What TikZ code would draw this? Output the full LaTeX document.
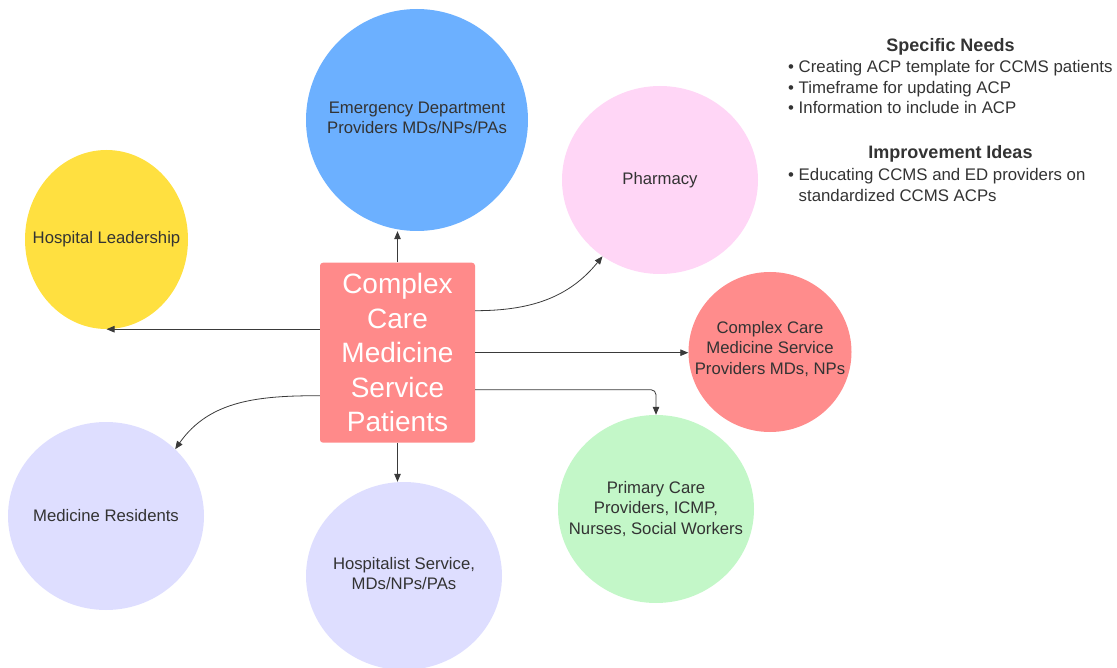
\documentclass[tikz,border=0pt]{standalone}
\usepackage{fontspec}
\setmainfont{Liberation Sans}
\usetikzlibrary{arrows.meta,shapes.geometric}
\definecolor{edblue}{HTML}{6CB0FF}
\definecolor{hlyellow}{HTML}{FFE040}
\definecolor{phpink}{HTML}{FFD6F6}
\definecolor{ccred}{HTML}{FF8C8C}
\definecolor{boxred}{HTML}{FF8A8A}
\definecolor{lav}{HTML}{DEDEFF}
\definecolor{pcgreen}{HTML}{C3F7C8}
\definecolor{txt}{HTML}{333333}
\definecolor{lin}{HTML}{3A3A3A}
\begin{document}
\begin{tikzpicture}[x=1pt,y=-1pt,
  blob/.style={ellipse, draw=none, inner sep=0pt},
  lbl/.style={align=center, text=txt, inner sep=0pt, font=\fontsize{16.7}{20.5}\selectfont},
  hd/.style={text=txt, inner sep=0pt, font=\fontsize{18}{21}\selectfont\bfseries},
  item/.style={text=txt, inner sep=0pt, font=\fontsize{16.8}{20.5}\selectfont},
  centerbox/.style={rectangle, rounded corners=3pt, fill=boxred, minimum width=155pt,
    minimum height=180pt, inner sep=0pt, align=center, text=white,
    font=\fontsize{28}{34.5}\selectfont},
  conn/.style={draw=lin, line width=0.8pt, -{Triangle[length=8pt,width=6.5pt]}}
]
\useasboundingbox (0,0) rectangle (1117,668);

% shapes
\node[blob, fill=edblue, minimum width=222pt, minimum height=222pt] (ed) at (417,120) {};
\node[lbl, yshift=2pt] (edt) at (ed.center) {Emergency Department\\Providers MDs/NPs/PAs};

\node[blob, fill=hlyellow, minimum width=163pt, minimum height=179pt] (hl) at (106.5,239.5) {};
\node[lbl] (hlt) at (hl.center) {Hospital Leadership};

\node[blob, fill=phpink, minimum width=196pt, minimum height=188pt] (ph) at (660,180) {};
\node[lbl] (pht) at (ph.center) {Pharmacy};

\node[blob, fill=ccred, minimum width=163pt, minimum height=160pt] (cc) at (770,352) {};
\node[lbl, yshift=3pt] (cct) at (cc.center) {Complex Care\\Medicine Service\\Providers MDs, NPs};

\node[blob, fill=lav, minimum width=196pt, minimum height=188pt] (mr) at (106,516) {};
\node[lbl] (mrt) at (mr.center) {Medicine Residents};

\node[blob, fill=lav, minimum width=196pt, minimum height=188pt] (hs) at (404,576) {};
\node[lbl, yshift=2.5pt] (hst) at (hs.center) {Hospitalist Service,\\MDs/NPs/PAs};

\node[blob, fill=pcgreen, minimum width=196pt, minimum height=188pt] (pc) at (656,509) {};
\node[lbl] (pct) at (pc.center) {Primary Care\\Providers, ICMP,\\Nurses, Social Workers};

\node[centerbox] (box) at (397.5,352.7) {Complex\\Care\\Medicine\\Service\\Patients};

% connectors
\draw[conn] (box.north) -- (box.north |- ed.south);
\draw[conn] (box.south) -- (box.south |- hs.north);
\draw[conn] (box.west |- hl.south) -- (hl.south);
\draw[conn] ([yshift=-43pt]box.west) to[out=180,in=55] (mr.44);
\draw[conn] ([yshift=42pt]box.east) to[out=0,in=231] (ph.233);
\draw[conn] (box.east) -- (box.east -| cc.west);
\draw[conn, rounded corners=5pt] ([yshift=-37pt]box.east) -| (pc.north);

% notes
\node[hd, anchor=base] (sn) at (950.5,52) {Specific Needs};
\node[item, anchor=base west] (n1) at (788,72.5) {• Creating ACP template for CCMS patients};
\node[item, anchor=base west] (n2) at (788,93.3) {• Timeframe for updating ACP};
\node[item, anchor=base west] (n3) at (788,114) {• Information to include in ACP};
\node[hd, anchor=base] (ii) at (950.5,158.3) {Improvement Ideas};
\node[item, anchor=base west] (i1) at (788,180.7) {• Educating CCMS and ED providers on};
\node[item, anchor=base west] (i2) at (798.5,201.7) {standardized CCMS ACPs};
\end{tikzpicture}
\end{document}
